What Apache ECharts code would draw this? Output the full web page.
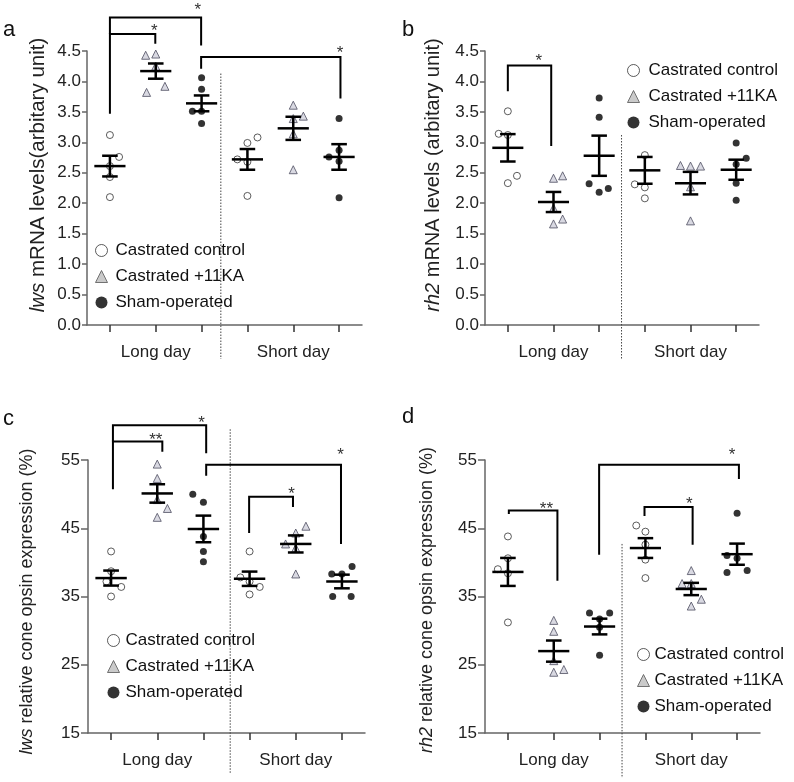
<!DOCTYPE html>
<html><head><meta charset="utf-8">
<script src="https://cdn.jsdelivr.net/npm/echarts@6/dist/echarts.min.js"></script>
<style>html,body{margin:0;padding:0;background:#fff}#c{width:794px;height:782px}</style>
</head><body><div id="c"></div>
<script>
// ---------- data ----------
const seriesNames = ['Castrated control', 'Castrated +11KA', 'Sham-operated'];
const dayGroups = ['Long day', 'Short day'];
const groupCenters = [0.5, 1.5, 2.5, 3.5, 4.5, 5.5];
const panelLetters = ['a', 'b', 'c', 'd'];
const yNames = ['{i|lws} mRNA levels(arbitary unit)', '{i|rh2} mRNA levels (arbitary unit)',
  '{i|lws} relative cone opsin expression (%)', '{i|rh2} relative cone opsin expression (%)'];
const yMin = [0, 0, 15, 15];
const yMax = [4.5, 4.5, 55, 55];
const yStep = [0.5, 0.5, 10, 10];

// panel a : lws mRNA
const aCtrlLD = [3.12, 2.76, 2.61, 2.43, 2.10],  aCtrlLDdx = [0, 0.2, 0, 0, 0];
const aCtrlSD = [2.99, 3.08, 2.72, 2.68, 2.12],  aCtrlSDdx = [0, 0.22, -0.22, 0, 0];
const aKaLD   = [4.43, 4.45, 4.25, 3.82, 3.92],  aKaLDdx   = [-0.22, 0, 0, -0.2, 0.2];
const aKaSD   = [3.61, 3.43, 3.39, 3.14, 2.55],  aKaSDdx   = [0, 0.22, 0, 0, 0];
const aShLD   = [4.06, 3.87, 3.51, 3.51, 3.31],  aShLDdx   = [0, 0, -0.2, 0, 0];
const aShSD   = [3.39, 2.87, 2.76, 2.69, 2.09],  aShSDdx   = [0, 0, -0.22, 0, 0];
const aMean = [2.61, 4.17, 3.64, 2.72, 3.23, 2.76];
const aSem  = [0.17, 0.125, 0.13, 0.17, 0.19, 0.21];
const aBrackets = [[0.5, 1.49, 3.47, 4.78, 4.62], [0.5, 2.49, 4.78, 5.05, 4.59], [2.49, 5.53, 4.21, 4.40, 3.72]];
const aStars = [[1.47, 4.89], [2.42, 5.23], [5.52, 4.52]];
const aStarText = ['*', '*', '*'];
const aDivider = [2.92, 4.13];

// panel b : rh2 mRNA
const bCtrlLD = [3.51, 3.14, 3.12, 2.45, 2.33],  bCtrlLDdx = [0, -0.2, 0, 0.2, 0];
const bCtrlSD = [2.79, 2.31, 2.26, 2.08],        bCtrlSDdx = [0, -0.22, 0, 0];
const bKaLD   = [2.41, 2.45, 1.92, 1.66, 1.74],  bKaLDdx   = [0, 0.2, 0, 0, 0.2];
const bKaSD   = [2.62, 2.61, 2.61, 2.27, 1.71],  bKaSDdx   = [-0.22, 0, 0.22, 0, 0];
const bShLD   = [3.73, 3.41, 2.32, 2.18, 2.24],  bShLDdx   = [0, 0, -0.22, 0, 0.2];
const bShSD   = [2.99, 2.74, 2.64, 2.33, 2.05],  bShSDdx   = [0, 0.22, 0, 0, 0];
const bMean = [2.91, 2.02, 2.78, 2.54, 2.33, 2.55];
const bSem  = [0.225, 0.165, 0.33, 0.22, 0.185, 0.165];
const bBrackets = [[0.5, 1.45, 3.84, 4.26, 2.94]];
const bStars = [[1.18, 4.39]];
const bStarText = ['*'];
const bDivider = [2.99, 3.12];

// panel c : lws relative cone opsin expression
const cCtrlLD = [41.6, 38.7, 37.2, 36.4, 35.0],  cCtrlLDdx = [0, 0, -0.1, 0.22, 0];
const cCtrlSD = [41.6, 37.8, 37.2, 36.4, 35.3],  cCtrlSDdx = [0, -0.2, 0, 0.22, 0];
const cKaLD   = [54.4, 52.3, 49.2, 47.9, 46.6],  cKaLDdx   = [0, 0, 0, 0.22, 0];
const cKaSD   = [45.3, 44.3, 42.7, 42.1, 38.3],  cKaSDdx   = [0.22, 0, -0.22, 0, 0];
const cShLD   = [50.0, 48.8, 43.8, 41.6, 40.1],  cShLDdx   = [-0.23, 0, 0, 0, 0];
const cShSD   = [38.3, 38.3, 39.4, 35.0, 35.0],  cShSDdx   = [-0.22, 0, 0.22, -0.2, 0.2];
const cMean = [37.7, 50.1, 44.9, 37.6, 42.7, 37.2];
const cSem  = [1.1, 1.35, 1.95, 1.05, 1.25, 1.0];
const cBrackets = [[0.54, 1.61, 50.7, 57.7, 56.2], [0.54, 2.56, 57.7, 60.1, 56.0], [2.56, 5.48, 52.7, 54.3, 42.7], [3.49, 4.44, 44.3, 49.6, 48.1]];
const cStars = [[1.47, 58.4], [2.46, 60.95], [5.47, 56.2], [4.41, 50.6]];
const cStarText = ['**', '*', '*', '*'];
const cDivider = [3.08, 59.5];

// panel d : rh2 relative cone opsin expression
const dCtrlLD = [43.8, 40.6, 39.0, 38.4, 31.2],  dCtrlLDdx = [0, 0, -0.22, 0, 0];
const dCtrlSD = [45.4, 44.5, 42.6, 40.4, 37.7],  dCtrlSDdx = [-0.2, 0, 0, 0, 0];
const dKaLD   = [31.5, 29.9, 25.6, 23.9, 24.3],  dKaLDdx   = [0, 0, 0, 0, 0.22];
const dKaSD   = [38.8, 36.9, 36.9, 34.6, 33.6],  dKaSDdx   = [0, -0.2, 0, 0.22, 0];
const dShLD   = [32.6, 32.6, 31.7, 30.5, 26.4],  dShLDdx   = [-0.22, 0.22, 0, 0, 0];
const dShSD   = [47.2, 41.0, 40.6, 38.5, 38.8],  dShSDdx   = [0, -0.22, 0, -0.22, 0.22];
const dMean = [38.6, 27.0, 30.6, 42.1, 36.1, 41.2];
const dSem  = [2.05, 1.55, 1.15, 1.45, 0.9, 1.55];
const dBrackets = [[0.52, 1.58, 47.1, 47.6, 37.3], [2.49, 5.54, 41.1, 54.3, 52.2], [3.48, 4.53, 46.8, 48.1, 42.6]];
const dStars = [[1.34, 48.4], [5.39, 56.2], [4.46, 49.1]];
const dStarText = ['**', '*', '*'];
const dDivider = [2.99, 42.7];

// ---------- assembly ----------
const panelPoints = [
  [[aCtrlLD, aCtrlLDdx, aCtrlSD, aCtrlSDdx], [aKaLD, aKaLDdx, aKaSD, aKaSDdx], [aShLD, aShLDdx, aShSD, aShSDdx]],
  [[bCtrlLD, bCtrlLDdx, bCtrlSD, bCtrlSDdx], [bKaLD, bKaLDdx, bKaSD, bKaSDdx], [bShLD, bShLDdx, bShSD, bShSDdx]],
  [[cCtrlLD, cCtrlLDdx, cCtrlSD, cCtrlSDdx], [cKaLD, cKaLDdx, cKaSD, cKaSDdx], [cShLD, cShLDdx, cShSD, cShSDdx]],
  [[dCtrlLD, dCtrlLDdx, dCtrlSD, dCtrlSDdx], [dKaLD, dKaLDdx, dKaSD, dKaSDdx], [dShLD, dShLDdx, dShSD, dShSDdx]]
];
const panelMean = [aMean, bMean, cMean, dMean];
const panelSem = [aSem, bSem, cSem, dSem];
const panelBrackets = [aBrackets, bBrackets, cBrackets, dBrackets];
const panelStars = [aStars, bStars, cStars, dStars];
const panelStarText = [aStarText, bStarText, cStarText, dStarText];
const panelDivider = [aDivider, bDivider, cDivider, dDivider];

const FONT = 'Liberation Sans, Arial, sans-serif';
const AXIS_COLOR = '#666';
const grids = [
  {left: 87, top: 51, width: 275, height: 274},
  {left: 485, top: 51, width: 274, height: 274},
  {left: 88, top: 460, width: 277, height: 273},
  {left: 485, top: 460, width: 275, height: 273}
];
const nameFont = [20.5, 20, 18, 18];
const nameGaps = [38, 42, 52, 49];
const namePad = [[0, 0, 0, 26], [0, 0, 0, 26], [0, 10, 0, 0], [0, 7, 0, 0]];
const tickLen = [5, 5, 7, 7];
const labelMargin = [6, 6, 8, 8];
const dividerExt = [34, 34, 40, 45];
const letterPos = [[3, 31], [402, 31], [3, 420], [402, 418]];
const legendPos = [[90, 237], [622, 57], [102, 627], [632, 641]];
const legendTextPad = [3, 4, 1, 0];

const symbolStyles = [
  {symbol: 'circle', size: 7, itemStyle: {color: '#ffffff', borderColor: '#333', borderWidth: 1}},
  {symbol: 'triangle', size: 8, itemStyle: {color: '#cfcfdb', borderColor: '#4d4d60', borderWidth: 1}},
  {symbol: 'circle', size: 7, itemStyle: {color: '#000000', borderColor: '#000', borderWidth: 0}}
];
const legendIcons = [
  {name: seriesNames[0], icon: 'circle', itemStyle: {color: '#ffffff', borderColor: '#333', borderWidth: 1}},
  {name: seriesNames[1], icon: 'triangle', itemStyle: {color: '#bdbdbd', borderColor: '#555', borderWidth: 1}},
  {name: seriesNames[2], icon: 'circle', itemStyle: {color: '#000000', borderColor: '#000', borderWidth: 0}}
];

const xAxes = [], yAxes = [], series = [], legends = [], graphics = [];

for (let p = 0; p < 4; p++) {
  xAxes.push({
    type: 'value', gridIndex: p, min: 0, max: 6,
    axisLine: {show: true, onZero: false, lineStyle: {color: AXIS_COLOR, width: 1.5}},
    axisTick: {show: true, customValues: groupCenters, length: 7, lineStyle: {color: '#333', width: 1.5}},
    axisLabel: {customValues: [1.5, 4.5], margin: 19, fontSize: 17, color: '#222', fontFamily: FONT,
      formatter: v => (v < 3 ? dayGroups[0] : dayGroups[1])},
    splitLine: {show: false}
  });
  yAxes.push({
    type: 'value', gridIndex: p, min: yMin[p], max: yMax[p], interval: yStep[p],
    name: yNames[p], nameLocation: 'middle', nameGap: nameGaps[p],
    nameTextStyle: {fontSize: nameFont[p], color: '#222', fontFamily: FONT, padding: namePad[p],
      rich: {i: {fontStyle: 'italic', fontSize: nameFont[p], color: '#222', fontFamily: FONT}}},
    axisLine: {show: true, lineStyle: {color: AXIS_COLOR, width: 1.5}},
    axisTick: {show: true, length: tickLen[p], lineStyle: {color: AXIS_COLOR, width: 1.5}},
    axisLabel: {fontSize: 17, color: '#222', fontFamily: FONT, margin: labelMargin[p],
      formatter: v => (p < 2 ? v.toFixed(1) : String(v))},
    splitLine: {show: false}
  });

  // points
  for (let s = 0; s < 3; s++) {
    const [ld, ldx, sd, sdx] = panelPoints[p][s];
    const data = ld.map((v, i) => [groupCenters[s] + ldx[i], v])
      .concat(sd.map((v, i) => [groupCenters[s + 3] + sdx[i], v]));
    series.push({
      type: 'scatter', name: seriesNames[s], xAxisIndex: p, yAxisIndex: p,
      symbol: symbolStyles[s].symbol, symbolSize: symbolStyles[s].size,
      itemStyle: symbolStyles[s].itemStyle, data: data, z: 2, silent: true
    });
  }

  // mean ± SEM
  series.push({
    type: 'custom', xAxisIndex: p, yAxisIndex: p, z: 4, silent: true,
    data: panelMean[p].map((m, i) => [groupCenters[i], m, panelSem[p][i]]),
    renderItem: function (params, api) {
      const x = api.value(0), m = api.value(1), s = api.value(2);
      const st = {stroke: '#000', lineWidth: 2.5};
      const L = api.coord([x - 0.34, m]), R = api.coord([x + 0.34, m]);
      const T = api.coord([x, m + s]), B = api.coord([x, m - s]);
      const cw = api.coord([x + 0.17, m])[0] - api.coord([x, m])[0];
      return {type: 'group', children: [
        {type: 'line', shape: {x1: L[0], y1: L[1], x2: R[0], y2: R[1]}, style: st},
        {type: 'line', shape: {x1: T[0], y1: T[1], x2: B[0], y2: B[1]}, style: st},
        {type: 'line', shape: {x1: T[0] - cw, y1: T[1], x2: T[0] + cw, y2: T[1]}, style: st},
        {type: 'line', shape: {x1: B[0] - cw, y1: B[1], x2: B[0] + cw, y2: B[1]}, style: st}
      ]};
    }
  });

  // significance brackets
  const stars = panelStars[p], starText = panelStarText[p];
  series.push({
    type: 'custom', xAxisIndex: p, yAxisIndex: p, z: 4, silent: true, clip: false,
    data: panelBrackets[p],
    renderItem: function (params, api) {
      const x1 = api.value(0), x2 = api.value(1), y1 = api.value(2), yt = api.value(3), y2 = api.value(4);
      const pts = [api.coord([x1, y1]), api.coord([x1, yt]), api.coord([x2, yt]), api.coord([x2, y2])];
      const sp = api.coord(stars[params.dataIndex]);
      return {type: 'group', children: [
        {type: 'polyline', shape: {points: pts}, style: {stroke: '#000', lineWidth: 2, fill: null}},
        {type: 'text', x: sp[0], y: sp[1] + 4, style: {text: starText[params.dataIndex], fill: '#333',
          font: '17px ' + FONT, align: 'center', verticalAlign: 'middle'}}
      ]};
    }
  });

  // dotted divider between Long day / Short day
  const ymin = yMin[p], ext = dividerExt[p];
  series.push({
    type: 'custom', xAxisIndex: p, yAxisIndex: p, z: 1, silent: true, clip: false,
    data: [panelDivider[p]],
    renderItem: function (params, api) {
      const top = api.coord([api.value(0), api.value(1)]);
      const bot = api.coord([api.value(0), ymin]);
      return {type: 'line', shape: {x1: top[0], y1: top[1], x2: bot[0], y2: bot[1] + ext},
        style: {stroke: '#444', lineWidth: 1, lineDash: [1.5, 1.5]}};
    }
  });

  legends.push({
    orient: 'vertical', left: legendPos[p][0], top: legendPos[p][1], data: legendIcons,
    itemWidth: 12, itemHeight: 12, itemGap: 9, selectedMode: false,
    textStyle: {fontSize: 17, lineHeight: 17, color: '#111', fontFamily: FONT, padding: [0, 0, 0, legendTextPad[p]]}
  });

  graphics.push({
    type: 'text', left: letterPos[p][0], top: letterPos[p][1] - 12,
    style: {text: panelLetters[p], font: '22px ' + FONT, fill: '#111'}
  });
}

const chart = echarts.init(document.getElementById('c'), null, {renderer: 'canvas'});
chart.setOption({
  animation: false,
  backgroundColor: '#ffffff',
  textStyle: {fontFamily: FONT},
  grid: grids,
  xAxis: xAxes,
  yAxis: yAxes,
  legend: legends,
  graphic: graphics,
  series: series
});
</script></body></html>
